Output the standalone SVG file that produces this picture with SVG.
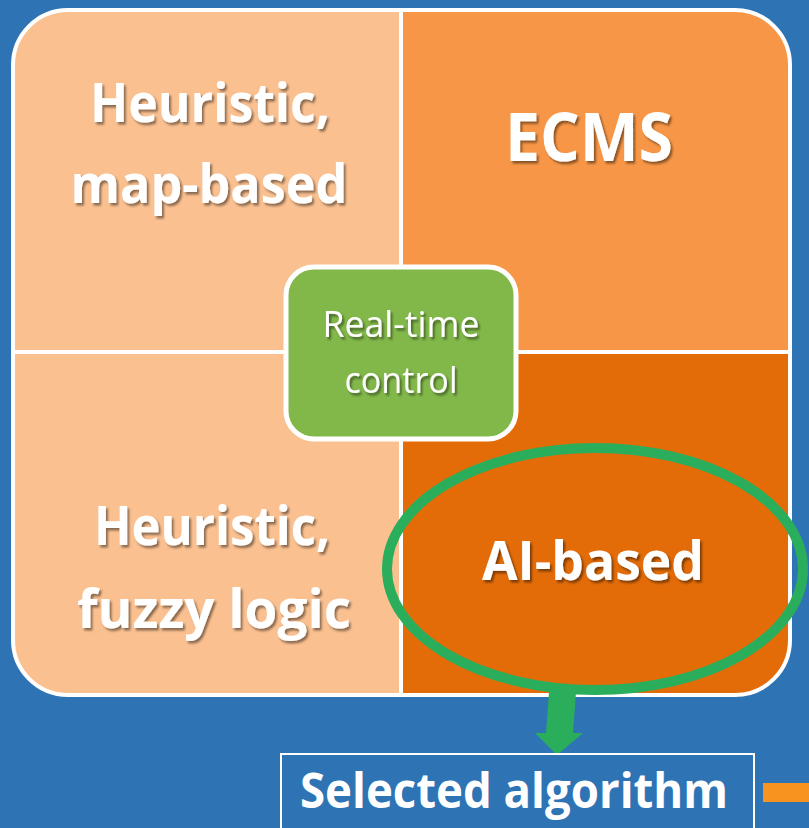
<svg xmlns="http://www.w3.org/2000/svg" width="809" height="828" viewBox="0 0 809 828">
<defs>
<style>
.big{font-family:"Open Sans","Noto Sans","Liberation Sans",sans-serif;font-weight:bold;fill:#fff;text-anchor:middle}
.reg{font-family:"Open Sans","Noto Sans","Liberation Sans",sans-serif;fill:#fff;text-anchor:middle}
</style>
<filter id="sh" x="-10%" y="-10%" width="130%" height="140%">
<feDropShadow dx="2" dy="2.5" stdDeviation="1.2" flood-color="#000" flood-opacity="0.45"/>
</filter>
<clipPath id="outer"><rect x="13" y="10" width="777" height="685" rx="55" ry="55"/></clipPath>
</defs>
<rect width="809" height="828" fill="#2E74B5"/>
<g id="matrix">
<g clip-path="url(#outer)">
<rect x="13" y="10" width="388" height="342" fill="#FAC090"/>
<rect x="401" y="10" width="389" height="342" fill="#F79646"/>
<rect x="13" y="352" width="388" height="343" fill="#FAC090"/>
<rect x="401" y="352" width="389" height="343" fill="#E36C09"/>
<line x1="401" y1="10" x2="401" y2="695" stroke="#fff" stroke-width="4"/>
<line x1="13" y1="352" x2="790" y2="352" stroke="#fff" stroke-width="4"/>
</g>
<rect x="13" y="10" width="777" height="685" rx="55" ry="55" fill="none" stroke="#fff" stroke-width="4"/>
</g>
<g id="q-map" filter="url(#sh)">
<text class="big" x="210" y="122" font-size="54" textLength="240" lengthAdjust="spacingAndGlyphs">Heuristic,</text>
<text class="big" x="209" y="203" font-size="54" textLength="277" lengthAdjust="spacingAndGlyphs">map-based</text>
</g>
<g id="q-ecms" filter="url(#sh)">
<text class="big" x="589" y="161" font-size="66" textLength="168" lengthAdjust="spacingAndGlyphs">ECMS</text>
</g>
<g id="q-fuzzy" filter="url(#sh)">
<text class="big" x="212" y="545" font-size="54" textLength="236" lengthAdjust="spacingAndGlyphs">Heuristic,</text>
<text class="big" x="214" y="628" font-size="54" textLength="274" lengthAdjust="spacingAndGlyphs">fuzzy logic</text>
</g>
<g id="q-ai" filter="url(#sh)">
<text class="big" x="593" y="580" font-size="53" textLength="222" lengthAdjust="spacingAndGlyphs">AI-based</text>
</g>
<g id="realtime">
<rect x="286" y="267" width="230" height="172" rx="28" ry="28" fill="#82B84A" stroke="#fff" stroke-width="5"/>
<g filter="url(#sh)">
<text class="reg" x="401" y="337" font-size="37" textLength="157" lengthAdjust="spacingAndGlyphs">Real-time</text>
<text class="reg" x="401" y="393" font-size="37" textLength="113" lengthAdjust="spacingAndGlyphs">control</text>
</g>
</g>
<g id="connectors">
<ellipse cx="595" cy="569" rx="208" ry="121" fill="none" stroke="#2BAE5B" stroke-width="10"/>
<polygon points="549,692 576,692 573,733 583,733 557,755 535,733 546,733" fill="#2BAE5B"/>
</g>
<g id="selected">
<rect x="281" y="754" width="473" height="90" fill="none" stroke="#fff" stroke-width="2"/>
<text class="big" x="514" y="808" font-size="48" textLength="428" lengthAdjust="spacingAndGlyphs">Selected algorithm</text>
</g>
<rect id="orange-bar" x="763" y="783" width="50" height="19" fill="#F7931E"/>
</svg>
